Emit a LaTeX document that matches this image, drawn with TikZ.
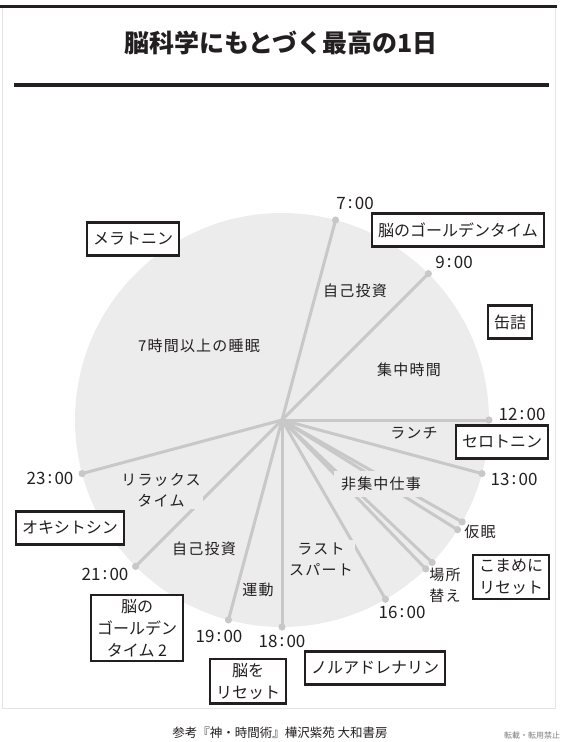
\documentclass[tikz,border=0pt]{standalone}
\usepackage{fontspec}
\setmainfont{Noto Sans CJK JP}
\usetikzlibrary{calc}
\definecolor{ink}{RGB}{35,31,32}
\definecolor{disc}{RGB}{236,236,236}
\definecolor{spoke}{RGB}{200,200,200}
\definecolor{frame}{RGB}{228,228,228}
\definecolor{muted}{RGB}{125,125,125}
\newcommand{\hm}[2]{#1\kern2.2pt\raisebox{0.6pt}{:}\kern2.2pt#2}

\begin{document}
\begin{tikzpicture}[x=1pt, y=-1pt,
    hormone/.style={draw=ink, line width=2.6pt, fill=white, text=ink, align=center,
      inner xsep=6pt, inner ysep=4pt, minimum height=33pt,
      font=\fontsize{16}{22}\selectfont},
    clock/.style={text=ink, inner sep=1pt, font=\fontsize{17}{18}\selectfont},
    phase/.style={fill=disc, text=ink, inner sep=2pt, align=center,
      font=\fontsize{15}{21}\selectfont\addfontfeature{LetterSpace=8}},
    tick/.style={spoke, line width=3pt},
  ]
  \useasboundingbox (0,0) rectangle (561,742);

  % page frame and heading
  \draw[frame, line width=0.8pt] (2,6) rectangle (555,708);
  \draw[ink, line width=3pt] (0,6) -- (557,6);
  \node[text=ink, font=\fontsize{25}{30}\selectfont\bfseries] (title) at (281,43)
    {脳科学にもとづく最高の1日};
  \draw[ink, line width=4.5pt] (14,85) -- (549,85);

  % the 24h disc
  \coordinate (c) at (282,420);
  \fill[disc] (c) circle (207pt);
  \foreach \n/\a in {t7/75, t9/45, t12/0, t13/-15, nap1/-29.5, nap2/-32,
                     move1/-43.5, move2/-46, t16/-60, t18/-90, t19/-105,
                     t21/-135, t23/-165}{
    \coordinate (\n) at ($(c)+(\a:207pt)$);
    \draw[tick] (c) -- (\n);
    \fill[spoke] (\n) circle (3.6pt);
  }

  % hours
  \node[clock] (l7)  at (355,203) {\hm{7}{00}};
  \node[clock] (l9)  at (454,262) {\hm{9}{00}};
  \node[clock] (l12) at (522,414) {\hm{12}{00}};
  \node[clock] (l13) at (514,479) {\hm{13}{00}};
  \node[clock] (l16) at (402,612) {\hm{16}{00}};
  \node[clock] (l18) at (282,641) {\hm{18}{00}};
  \node[clock] (l19) at (219,636) {\hm{19}{00}};
  \node[clock] (l21) at (105,574) {\hm{21}{00}};
  \node[clock] (l23) at (50,478)  {\hm{23}{00}};

  % what happens in each slice
  \node[phase] (sleep)  at (199,346) {7時間以上の睡眠};
  \node[phase] (study)  at (355,291) {自己投資};
  \node[phase] (focus)  at (409,370) {集中時間};
  \node[phase] (lunch)  at (414,433) {ランチ};
  \node[phase, inner xsep=7pt, inner ysep=6pt] (loose) at (381,484) {非集中仕事};
  \node[phase] (spurt)  at (321,559) {ラスト\\スパート};
  \node[phase] (sport)  at (258,590) {運動};
  \node[phase] (study2) at (204,549) {自己投資};
  \node[phase] (relax)  at (161,490) {リラックス\\タイム};
  \node[phase, fill=none] (nap) at (480,532) {仮眠};
  \node[phase, fill=none, align=left] (move) at (445,585) {場所\\替え};

  % hormones and tips
  \node[hormone] (mela)  at (133,239) {メラトニン};
  \node[hormone] (gold)  at (458,230) {脳のゴールデンタイム};
  \node[hormone] (can)   at (510,322) {缶詰};
  \node[hormone] (sero)  at (502,442) {セロトニン};
  \node[hormone] (koma)  at (511,577) {こまめに\\リセット};
  \node[hormone] (oxy)   at (70,528)  {オキシトシン};
  \node[hormone] (gold2) at (137,628) {脳の\\ゴールデン\\タイム 2};
  \node[hormone] (reset) at (248,681) {脳を\\リセット};
  \node[hormone] (nor)   at (375,668) {ノルアドレナリン};

  % source line
  \node[text=ink, font=\fontsize{12.5}{14}\selectfont] (src) at (280,733)
    {参考『神・時間術』樺沢紫苑 大和書房};
  \node[text=muted, font=\fontsize{8}{9}\selectfont] (note) at (532,735)
    {転載・転用禁止};
\end{tikzpicture}
\end{document}
